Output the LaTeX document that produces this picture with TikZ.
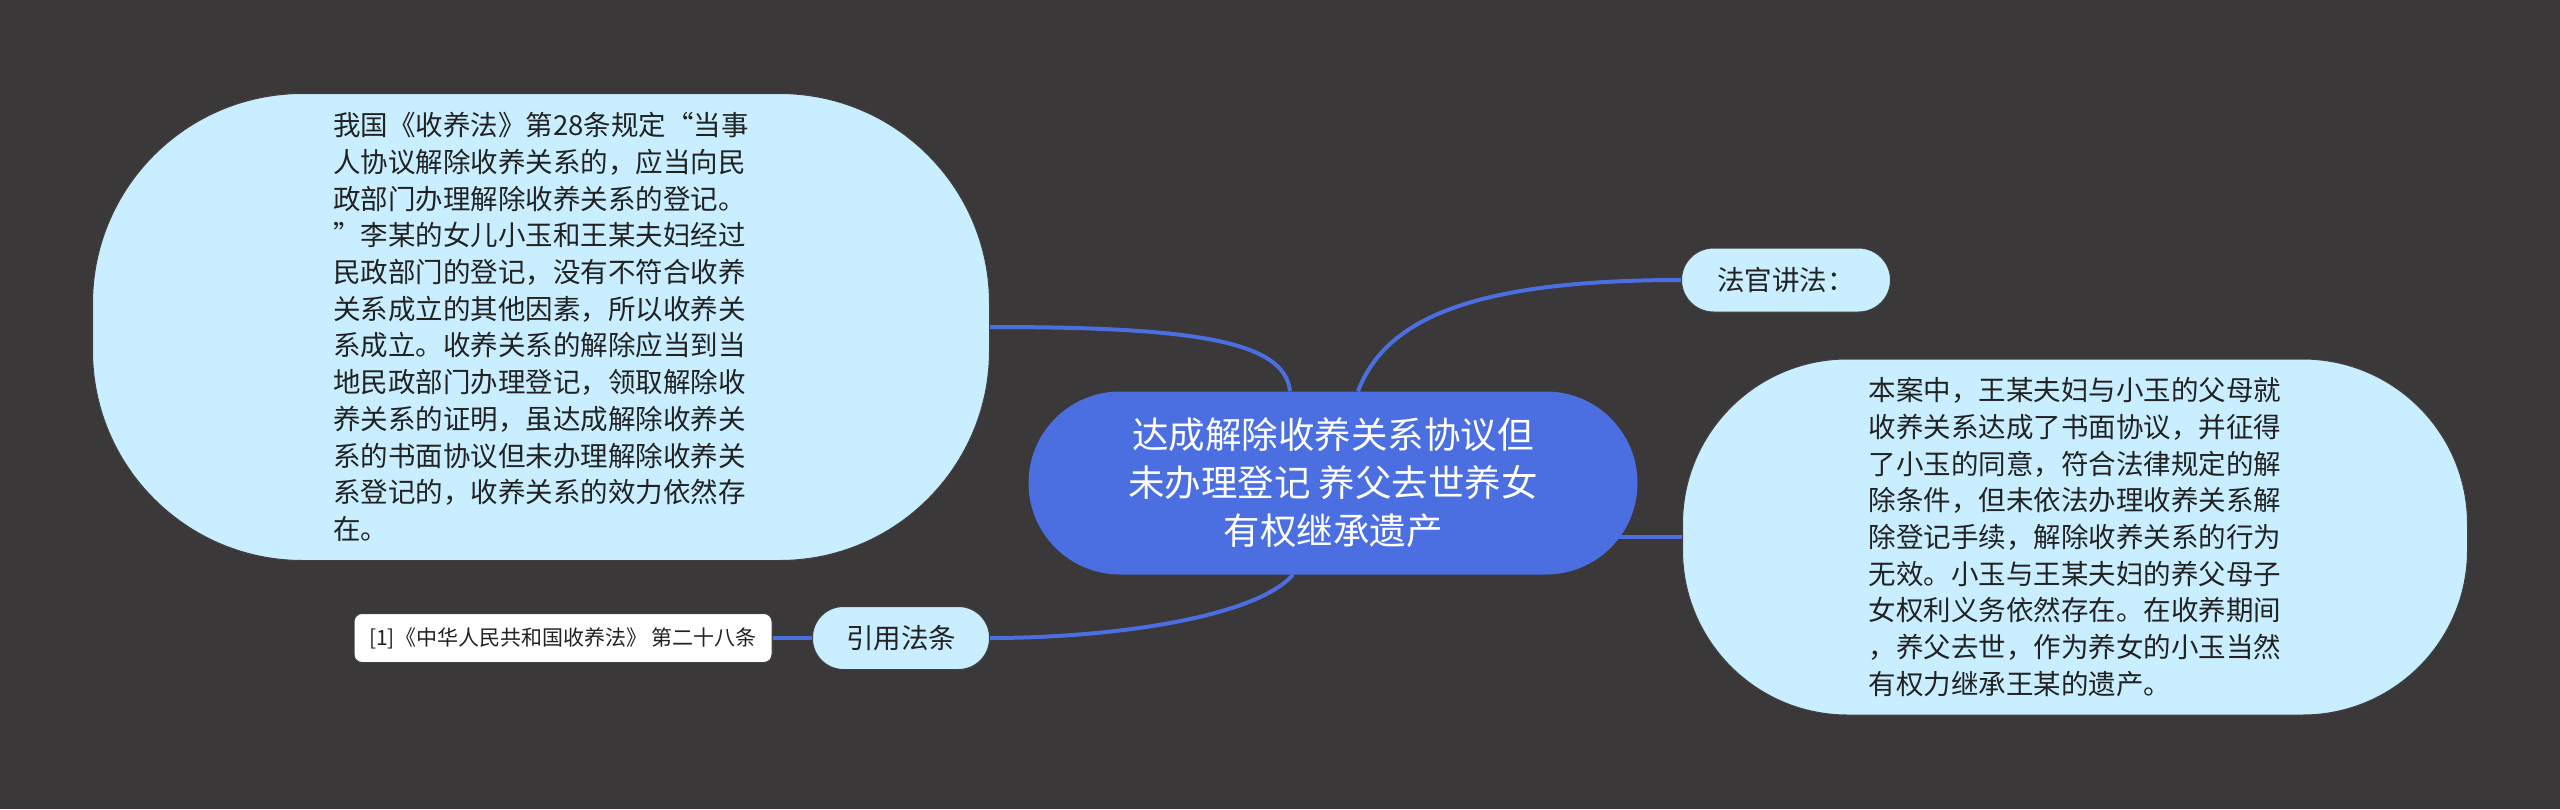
\documentclass[tikz,border=0pt]{standalone}
\usepackage{fontspec}
\setmainfont{Noto Sans CJK SC}
\usetikzlibrary{shapes.misc,backgrounds}
\definecolor{sfondo}{HTML}{3A3839}
\definecolor{radice}{HTML}{4B6FE0}
\definecolor{ramo}{HTML}{C9EEFF}
\definecolor{testo}{HTML}{222222}
\tikzset{
  foglia/.style={draw=black!75, line width=1pt, fill=ramo, text=testo, inner sep=0pt,
    align=left, font=\fontsize{27.5}{36.7}\selectfont},
  collegamento/.style={draw=radice, line width=4pt}
}
\begin{document}
\begin{tikzpicture}[x=1pt, y=-1pt]
            % Mappa con radice e 5 rami
            \useasboundingbox (0,0) rectangle (2560,809);

            \node[rounded rectangle, fill=radice, text=white, inner sep=0pt, minimum width=609pt, minimum height=183pt,
                  align=center, font=\fontsize{36.5}{48}\selectfont] (radice) at (1333,483)
                {达成解除收养关系协议但\\未办理登记 养父去世养女\\有权继承遗产};

            \node[foglia, minimum width=897pt, minimum height=467pt, rounded corners=210pt] (legge) at (541,327)
                {我国《收养法》第28条规定“当事\\人协议解除收养关系的，应当向民\\政部门办理解除收养关系的登记。\\”李某的女儿小玉和王某夫妇经过\\民政部门的登记，没有不符合收养\\关系成立的其他因素，所以收养关\\系成立。收养关系的解除应当到当\\地民政部门办理登记，领取解除收\\养关系的证明，虽达成解除收养关\\系的书面协议但未办理解除收养关\\系登记的，收养关系的效力依然存\\在。};
            \node[foglia, minimum width=209pt, minimum height=64pt, rounded corners=32pt] (giudice) at (1786,280) {法官讲法：};
            \node[foglia, minimum width=785pt, minimum height=356pt, rounded corners=165pt] (caso) at (2075,537)
                {本案中，王某夫妇与小玉的父母就\\收养关系达成了书面协议，并征得\\了小玉的同意，符合法律规定的解\\除条件，但未依法办理收养关系解\\除登记手续，解除收养关系的行为\\无效。小玉与王某夫妇的养父母子\\女权利义务依然存在。在收养期间\\，养父去世，作为养女的小玉当然\\有权力继承王某的遗产。};
            \node[foglia, minimum width=177pt, minimum height=63pt, rounded corners=31pt] (citazione) at (901,638) {引用法条};
            \node[foglia, fill=white, minimum width=418pt, minimum height=49pt, rounded corners=8pt,
                  font=\fontsize{21}{26}\selectfont] (articolo) at (563,638) {[1]《中华人民共和国收养法》 第二十八条};

            \begin{pgfonlayer}{background}
            \fill[sfondo] (0,0) rectangle (2560,809);
            \draw[collegamento] (legge.east) .. controls (1190,327) and (1285,340) .. ([xshift=-43pt]radice.north);
            \draw[collegamento] ([xshift=25pt]radice.north) .. controls (1385,320) and (1470,280) .. (giudice.west);
            \draw[collegamento] (radice.center |- caso.west) -- (caso.west);
            \draw[collegamento] ([xshift=-40pt]radice.south) .. controls (1255,618) and (1110,638) .. (citazione.east);
            \draw[collegamento] (citazione.west) -- (articolo.east);
            \end{pgfonlayer}
        \end{tikzpicture}
\end{document}
